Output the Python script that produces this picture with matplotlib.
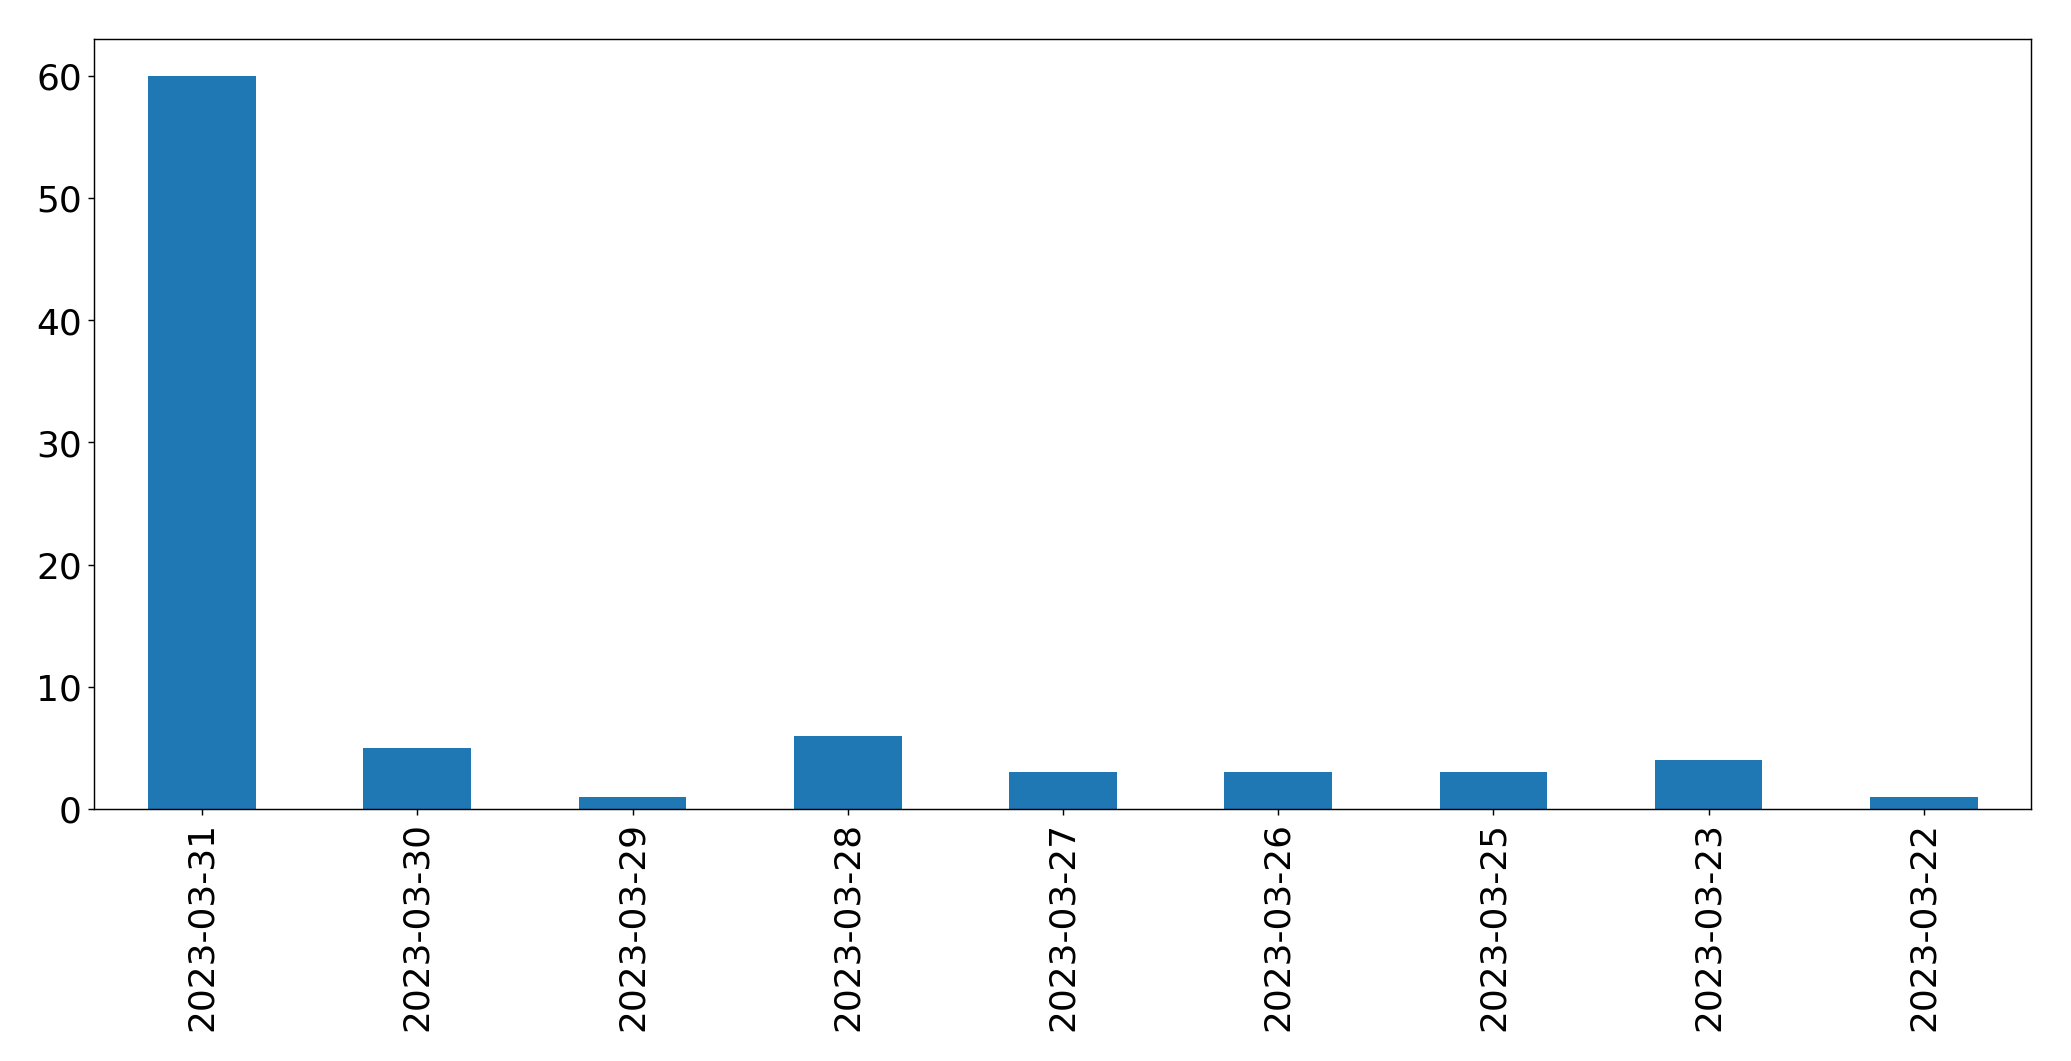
import matplotlib
matplotlib.use("Agg")
import matplotlib.pyplot as plt
import pandas as pd

dates = ["2023-03-31", "2023-03-30", "2023-03-29", "2023-03-28", "2023-03-27",
         "2023-03-26", "2023-03-25", "2023-03-23", "2023-03-22"]
counts = [60, 5, 1, 6, 3, 3, 3, 4, 1]

plt.rcParams['font.size'] = 20
fig, ax = plt.subplots(figsize=(16, 8.2), dpi=129.44)
s = pd.Series(counts, index=dates)
s.plot(kind="bar", ax=ax, color="#1f77b4")
ax.tick_params(labelsize=20)
fig.subplots_adjust(left=0.0456, right=0.9809, top=0.9628, bottom=0.2375)
fig.savefig("out.png", dpi=129.44)
